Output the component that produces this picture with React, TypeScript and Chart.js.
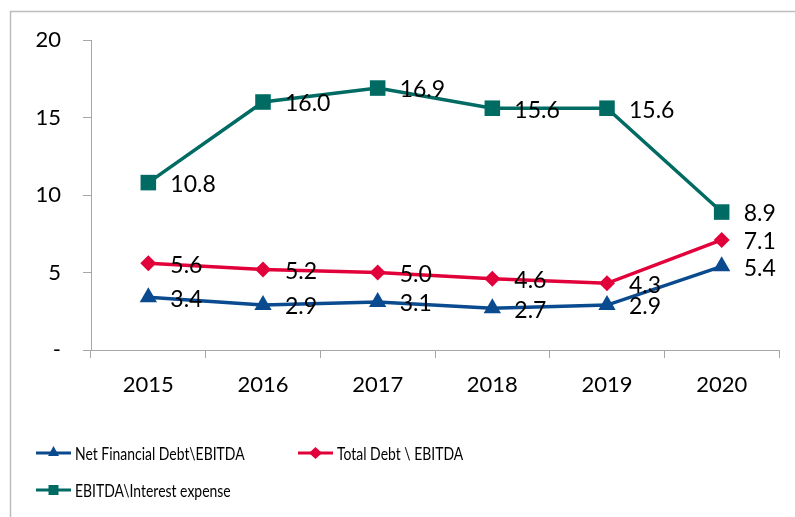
import React, { useEffect, useRef } from "react";
import { Chart, registerables } from "chart.js";

Chart.register(...registerables);

const years = ["2015", "2016", "2017", "2018", "2019", "2020"];
const netFinancialDebtEbitda = [3.4, 2.9, 3.1, 2.7, 2.9, 5.4];
const totalDebtEbitda = [5.6, 5.2, 5.0, 4.6, 4.3, 7.1];
const ebitdaInterest = [10.8, 16.0, 16.9, 15.6, 15.6, 8.9];
const seriesNames = ["Net Financial Debt\\EBITDA", "Total Debt \\ EBITDA", "EBITDA\\Interest expense"];

const BLUE = "#0A4A8E";
const RED = "#E2003A";
const TEAL = "#006B63";
const AXIS = "#A6A6A6";
const FONT = "Lato, 'Open Sans', sans-serif";

const dataLabels = {
  id: "dataLabels",
  afterDatasetsDraw(chart: any) {
    const ctx = chart.ctx;
    ctx.save();
    ctx.font = `23px ${FONT}`;
    ctx.fillStyle = "#000";
    ctx.textAlign = "left";
    ctx.textBaseline = "middle";
    chart.data.datasets.forEach((ds: any, i: number) => {
      const meta = chart.getDatasetMeta(i);
      meta.data.forEach((pt: any, j: number) => {
        ctx.fillText(Number(ds.data[j]).toFixed(1), pt.x + 22, pt.y + 2);
      });
    });
    ctx.restore();
  },
};

const frameAndLegend = {
  id: "frameAndLegend",
  beforeDraw(chart: any) {
    const ctx = chart.ctx;
    ctx.save();
    ctx.strokeStyle = "#BDBDBD";
    ctx.lineWidth = 1.5;
    ctx.beginPath();
    ctx.moveTo(10.5, chart.height);
    ctx.lineTo(10.5, 11.5);
    ctx.lineTo(chart.width, 11.5);
    ctx.stroke();
    ctx.restore();
  },
  afterDraw(chart: any) {
    const ctx = chart.ctx;
    const items = [
      { x: 36, y: 453, color: BLUE, style: "triangle" },
      { x: 298, y: 453, color: RED, style: "rectRot" },
      { x: 36, y: 490, color: TEAL, style: "rect" },
    ];
    ctx.save();
    items.forEach((it, i) => {
      ctx.strokeStyle = it.color;
      ctx.lineWidth = 3;
      ctx.beginPath();
      ctx.moveTo(it.x, it.y);
      ctx.lineTo(it.x + 35, it.y);
      ctx.stroke();
      ctx.fillStyle = it.color;
      const cx = it.x + 17.5;
      ctx.beginPath();
      if (it.style === "triangle") {
        ctx.moveTo(cx, it.y - 7);
        ctx.lineTo(cx + 5.5, it.y + 3);
        ctx.lineTo(cx - 5.5, it.y + 3);
      } else if (it.style === "rectRot") {
        ctx.moveTo(cx, it.y - 6);
        ctx.lineTo(cx + 6.5, it.y);
        ctx.lineTo(cx, it.y + 6);
        ctx.lineTo(cx - 6.5, it.y);
      } else {
        ctx.rect(cx - 5, it.y - 5, 10, 10);
      }
      ctx.closePath();
      ctx.fill();
      ctx.save();
      ctx.translate(it.x + 39, it.y + 1);
      ctx.scale(0.775, 1);
      ctx.fillStyle = "#000";
      ctx.font = `18px ${FONT}`;
      ctx.textAlign = "left";
      ctx.textBaseline = "middle";
      ctx.fillText(seriesNames[i], 0, 0);
      ctx.restore();
    });
    ctx.restore();
  },
};

export default function App() {
  const ref = useRef<HTMLCanvasElement | null>(null);
  useEffect(() => {
    if (!ref.current) return;
    const chart = new Chart(ref.current, {
      type: "line",
      data: {
        labels: years,
        datasets: [
          {
            label: seriesNames[0],
            data: netFinancialDebtEbitda,
            borderColor: BLUE,
            backgroundColor: BLUE,
            borderWidth: 3.5,
            pointStyle: "triangle",
            pointRadius: 10,
            pointBorderWidth: 0,
          },
          {
            label: seriesNames[1],
            data: totalDebtEbitda,
            borderColor: RED,
            backgroundColor: RED,
            borderWidth: 3.5,
            pointStyle: "rectRot",
            pointRadius: 8,
            pointBorderWidth: 0,
          },
          {
            label: seriesNames[2],
            data: ebitdaInterest,
            borderColor: TEAL,
            backgroundColor: TEAL,
            borderWidth: 3.5,
            pointStyle: "rect",
            pointRadius: 11,
            pointBorderWidth: 0,
          },
        ],
      },
      options: {
        responsive: false,
        animation: false,
        layout: { padding: { top: 40, right: 16, bottom: 117, left: 0 } },
        plugins: {
          legend: { display: false },
          tooltip: { enabled: false },
        },
        scales: {
          x: {
            offset: true,
            grid: {
              offset: true,
              drawOnChartArea: false,
              drawTicks: true,
              tickLength: 8,
              color: AXIS,
            },
            border: { display: true, color: AXIS, width: 1 },
            ticks: {
              color: "#000",
              font: { family: FONT, size: 22 },
              padding: 14,
              maxRotation: 0,
            },
            afterFit(scale: any) {
              scale.height = 50;
            },
          },
          y: {
            min: 0,
            max: 20,
            grid: {
              drawOnChartArea: false,
              drawTicks: true,
              tickLength: 8,
              color: AXIS,
            },
            border: { display: true, color: AXIS, width: 1 },
            ticks: {
              stepSize: 5,
              color: "#000",
              font: { family: FONT, size: 22 },
              padding: 22,
              callback: (v: any) => (Number(v) === 0 ? "-" : String(v)),
            },
            afterFit(scale: any) {
              scale.width = 91;
            },
          },
        },
      },
      plugins: [frameAndLegend, dataLabels],
    });
    return () => chart.destroy();
  }, []);
  return (
    <div style={{ position: "absolute", left: 0, top: 0, width: 795, height: 517, background: "#fff" }}>
      <canvas ref={ref} width={795} height={517} style={{ display: "block" }} />
    </div>
  );
}
